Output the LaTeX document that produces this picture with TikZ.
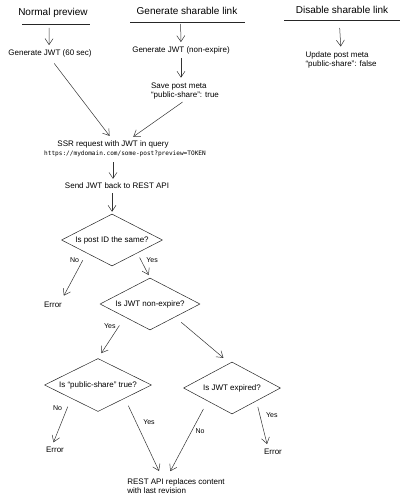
\documentclass[tikz,border=0pt]{standalone}
\usepackage{fontspec}
\setmainfont{Liberation Sans}
\setmonofont{DejaVu Sans Mono}
\usetikzlibrary{arrows.meta,calc,positioning,shapes.geometric}

\begin{document}
\begin{tikzpicture}[x=1pt,y=-1pt,
  title/.style={font=\fontsize{10}{12}\selectfont,inner sep=1pt},
  txt/.style={font=\fontsize{8}{9}\selectfont,align=left,inner sep=1pt},
  url/.style={font=\ttfamily\fontsize{6.1}{7}\selectfont,inner sep=1pt},
  lbl/.style={font=\fontsize{7}{8}\selectfont,inner sep=1pt},
  ask/.style={diamond,aspect=2,draw=black!85,line width=0.5pt,inner sep=0pt,
    font=\fontsize{8}{9}\selectfont},
  arr/.style={-{Straight Barb[length=6pt,width=8pt]},line width=0.5pt,draw=black!80},
  uline/.style={line width=0.6pt,draw=black!85}]
  \useasboundingbox (0,0) rectangle (404,500);
  % column titles
  \node[title] (np) at (53,13) {Normal preview};
  \node[title] (gs) at (187,11) {Generate sharable link};
  \node[title] (ds) at (342,10) {Disable sharable link};
  \draw[uline] (22,24) coordinate (npl) -- (90,24) coordinate (npr);
  \draw[uline] (130,22) coordinate (gsl) -- (245,22) coordinate (gsr);
  \draw[uline] (284,20) coordinate (dsl) -- (400,20) coordinate (dsr);
  % steps
  \node[txt] (g60) at (50,53) {Generate JWT (60 sec)};
  \node[txt] (gne) at (181,50) {Generate JWT (non-expire)};
  \node[txt] (save) at (185,91) {Save post meta\\``public-share'': true};
  \node[txt] (upd) at (341,60) {Update post meta\\``public-share'': false};
  \node[txt] (ssr) at (113,144) {SSR request with JWT in query};
  \node[url] (link) at (125,154) {https://mydomain.com/some-post?preview=TOKEN};
  \node[txt] (send) at (117,186) {Send JWT back to REST API};
  % decisions
  \node[ask,minimum width=101pt,minimum height=52pt] (same) at (112,240) {Is post ID the same?};
  \node[ask,minimum width=100pt,minimum height=52pt] (nonexp) at (150,304) {Is JWT non-expire?};
  \node[ask,minimum width=107pt,minimum height=53pt] (pub) at (98,385) {Is ``public-share'' true?};
  \node[ask,minimum width=97pt,minimum height=52pt] (expd) at (232,388) {Is JWT expired?};
  \node[txt] (err1) at (53,305) {Error};
  \node[txt] (err3) at (55,450) {Error};
  \node[txt] (err4) at (273,452) {Error};
  \node[txt] (rest) at (176,486) {REST API replaces content\\with last revision};
  % connectors
  \draw[arr,shorten >=3pt] ($(npl)!0.4!(npr)+(0,4)$) -- (g60.north -| 49,0);
  \draw[arr,shorten >=3pt] ($(gsl)!0.44!(gsr)+(0,2)$) -- (gne.north);
  \draw[arr,shorten >=4pt] ($(dsl)!0.48!(dsr)+(0,8)$) -- (upd.north);
  \draw[arr,shorten <=3pt,shorten >=4pt] (gne.south) -- (save.north -| gne);
  \draw[arr,shorten <=7pt,shorten >=4pt] (g60.south) -- ([xshift=-1pt]ssr.north);
  \draw[arr,shorten <=3pt,shorten >=4pt] (save.south) -- ([xshift=17pt]ssr.north);
  \draw[arr,shorten <=4pt,shorten >=3pt] (link.south -| ssr) -- (send.north -| ssr);
  \draw[arr,shorten <=3pt,shorten >=2pt] (send.south -| same) -- (same.north);
  \draw[arr,shorten <=8pt,shorten >=6pt] (same.south west) -- node[lbl,above left=1pt and 0pt,pos=0.25] {No} ([xshift=8pt]err1.north);
  \draw[arr,shorten <=5pt,shorten >=3pt] (same.south east) -- node[lbl,right=4pt,pos=0.3] {Yes} (nonexp.north);
  \draw[arr,shorten <=10pt,shorten >=6pt] (nonexp.south west) -- node[lbl,above left=0pt and 0pt,pos=0.3] {Yes} (pub.north);
  \draw[arr,shorten <=8pt,shorten >=6pt] (nonexp.south east) -- ([xshift=-4pt]expd.north);
  \draw[arr,shorten <=9pt,shorten >=4pt] (pub.south west) -- node[lbl,left=4pt,pos=0.2] {No} ([xshift=-3pt]err3.north);
  \draw[arr,shorten <=8pt,shorten >=7pt] (pub.south east) -- node[lbl,right=6pt,pos=0.3] {Yes} ([xshift=-14pt]rest.north);
  \draw[arr,shorten <=9pt,shorten >=7pt] (expd.south west) -- node[lbl,right=3pt,pos=0.4] {No} ([xshift=-9pt]rest.north);
  \draw[arr,shorten <=6pt,shorten >=4pt] (expd.south east) -- node[lbl,right=5pt,pos=0.3] {Yes} ([xshift=-5pt]err4.north);
\end{tikzpicture}
\end{document}
